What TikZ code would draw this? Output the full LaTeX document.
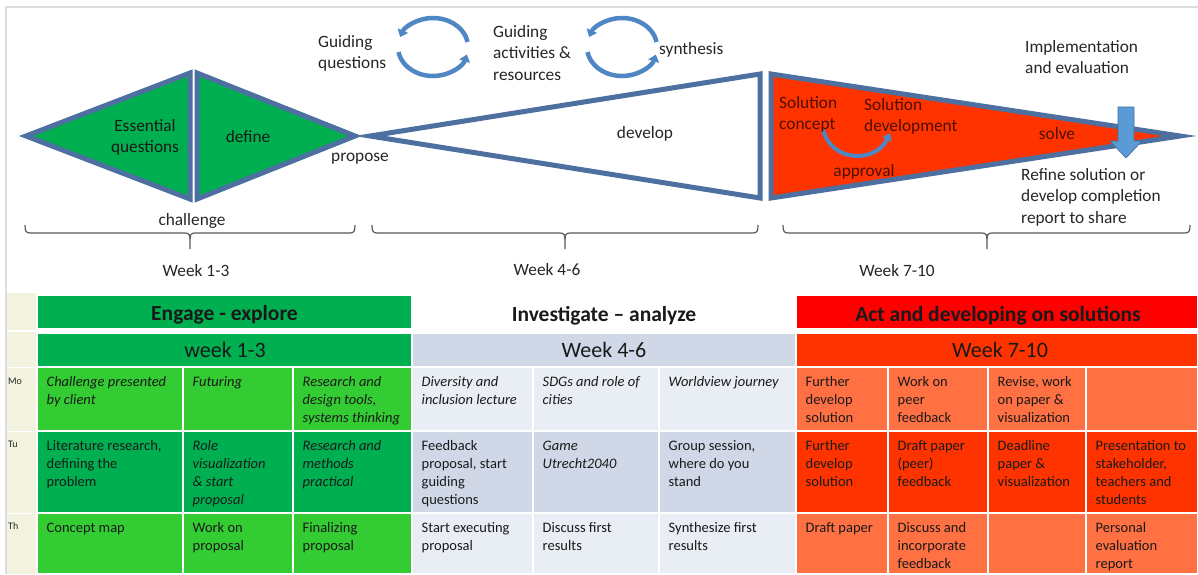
\documentclass[tikz,border=0pt]{standalone}
\usepackage{fontspec}
\setmainfont{Carlito}
\usetikzlibrary{arrows.meta}
\definecolor{frame}{HTML}{DDDDDD}
\definecolor{bord}{HTML}{4D70A0}
\definecolor{arrblue}{HTML}{4F87C5}
\definecolor{darrow}{HTML}{5B9BD5}
\definecolor{gdark}{HTML}{00B050}
\definecolor{glight}{HTML}{33CC33}
\definecolor{bdark}{HTML}{D0D8E8}
\definecolor{blight}{HTML}{E9EDF4}
\definecolor{rhead}{HTML}{FF0000}
\definecolor{rdark}{HTML}{FF3300}
\definecolor{rlight}{HTML}{FF7043}
\definecolor{beige}{HTML}{F2F2DE}
\definecolor{txt}{HTML}{262626}
\definecolor{redtxt}{HTML}{4D0F00}
\definecolor{celltxt}{HTML}{1A1A1A}
\definecolor{brcol}{HTML}{595959}
\newcommand\wkbrace[3]{%
  \draw[brc] (#1,225) .. controls (#1,231) and (#1+1,233) .. (#1+5,233) -- (#2-5,233) .. controls (#2-1,233) and (#2,235) .. (#2,239) -- (#2,249);
  \draw[brc] (#2,239) .. controls (#2,235) and (#2+1,233) .. (#2+5,233) -- (#3-5,233) .. controls (#3-1,233) and (#3,231) .. (#3,225);}
\begin{document}
\begin{tikzpicture}[x=1pt,y=-1pt,
  lbl/.style={font=\fontsize{17.3}{21.5}\selectfont, text=txt, inner sep=0pt, align=left, anchor=north west, execute at begin node=\strut},
  slbl/.style={font=\fontsize{17.3}{21.5}\selectfont, text=txt, inner sep=0pt, anchor=base},
  shp/.style={draw=bord, line width=5pt, line join=miter},
  circarr/.style={draw=arrblue, line width=4.5pt, -{Triangle[width=11pt,length=7pt]}},
  brc/.style={draw=brcol, line width=1.2pt},
  cellbg/.style={draw=white, line width=1.3pt},
  cell/.style={font=\fontsize{14.5}{18}\selectfont, text=celltxt, inner sep=0pt, align=left, anchor=north west, execute at begin node=\strut},
  icell/.style={cell, font=\fontsize{14.5}{18}\selectfont\itshape},
  hdr/.style={font=\fontsize{21.5}{24}\selectfont\bfseries, text=black!90, inner sep=0pt, anchor=base},
  wk/.style={font=\fontsize{22}{24}\selectfont, text=black!90, inner sep=0pt, anchor=base},
  day/.style={font=\fontsize{10}{12}\selectfont, text=txt, inner sep=0pt, anchor=base west}]
\useasboundingbox (0,0) rectangle (1198,574);
\fill[white] (0,0) rectangle (1198,574);
% frame lines
\draw[frame, line width=1.6pt] (6,7) -- (1198,7);
\draw[frame, line width=1.6pt] (6,7) -- (6,574);

% ---------- top diagram ----------
\filldraw[shp, fill=gdark] (26,136) -- (190,73) -- (190,199) -- cycle;
\filldraw[shp, fill=gdark] (197,73) -- (197,199) -- (355,136) -- cycle;
\filldraw[shp, fill=white] (370,136) -- (760,74) -- (760,198) -- cycle;
\filldraw[shp, fill=rdark] (771,74) -- (771,198) -- (1180,136) -- cycle;

% circular arrows
\coordinate (c1) at (433,47);
\coordinate (c2) at (622,47);
\draw[circarr] (c1) ++(-10:35 and 29) arc (-10:-160:35 and 29);
\draw[circarr] (c1) ++(170:35 and 29) arc (170:15:35 and 29);
\draw[circarr] (c2) ++(-10:35 and 29) arc (-10:-160:35 and 29);
\draw[circarr] (c2) ++(170:35 and 29) arc (170:15:35 and 29);

% approval arrow
\coordinate (ap1) at (823,130);
\coordinate (ap2) at (890,133);
\draw[draw=arrblue, line width=4pt, -{Triangle[width=10pt,length=7pt]}] (ap1) .. controls (832,163) and (876,163) .. (ap2);

% down arrow
\filldraw[fill=darrow, draw=arrblue!80!black, line width=0.6pt] (1118,107) -- (1134,107) -- (1134,141) -- (1142,141) -- (1126,158) -- (1110,141) -- (1118,141) -- cycle;

% labels top
\node[lbl] (gq) at (318,35) {Guiding\\questions};
\node[lbl] (gar) at (493,25) {Guiding\\activities \&\\resources};
\node[slbl, anchor=base west] (syn) at (659,54) {synthesis};
\node[lbl] (imp) at (1025,40) {Implementation\\and evaluation};
\node[lbl] (ref) at (1021,168) {Refine solution or\\develop completion\\report to share};
\node[lbl, font=\fontsize{17.3}{21}\selectfont, align=center, anchor=north, text=celltxt] (eq) at (145,119) {Essential\\questions};
\node[slbl, text=celltxt] (def) at (248,142) {define};
\node[slbl] (prop) at (360,161) {propose};
\node[slbl] (chal) at (192,225) {challenge};
\node[slbl] (dev) at (645,138) {develop};
\node[lbl, font=\fontsize{17.3}{21.5}\selectfont, text=redtxt] (sc) at (779,96) {Solution\\concept};
\node[lbl, font=\fontsize{17.3}{21.5}\selectfont, text=redtxt] (sd) at (864,98) {Solution\\development};
\node[slbl, text=redtxt] (solve) at (1057,139) {solve};
\node[slbl, text=redtxt] (appr) at (864,176) {approval};

% braces
\wkbrace{25}{190}{355}
\wkbrace{372}{565}{758}
\wkbrace{783}{987}{1190}
\node[slbl] (w13) at (196,276) {Week 1-3};
\node[slbl] (w46) at (547,275) {Week 4-6};
\node[slbl] (w710) at (897,276) {Week 7-10};

% ---------- table ----------
\fill[beige] (7,293) rectangle (37,574);
\draw[white, line width=2.5pt] (7,331) -- (37,331);
\draw[white, line width=1pt] (7,367) -- (37,367) (7,431) -- (37,431) (7,513) -- (37,513);

% header row
\filldraw[cellbg, fill=gdark] (37,295) rectangle (412,329);
\filldraw[cellbg, fill=rhead] (796,295) rectangle (1198,329);
% week row
\filldraw[cellbg, fill=gdark] (37,333) rectangle (412,367);
\filldraw[cellbg, fill=bdark] (412,333) rectangle (796,367);
\filldraw[cellbg, fill=rdark] (796,333) rectangle (1198,367);

% body rows
\foreach \ya/\yb/\gc/\bc/\rc in {367/431/glight/blight/rlight, 431/513/gdark/bdark/rdark, 513/574/glight/blight/rlight}{
  \filldraw[cellbg, fill=\gc] (37,\ya) rectangle (183,\yb);
  \filldraw[cellbg, fill=\gc] (183,\ya) rectangle (293,\yb);
  \filldraw[cellbg, fill=\gc] (293,\ya) rectangle (412,\yb);
  \filldraw[cellbg, fill=\bc] (412,\ya) rectangle (533,\yb);
  \filldraw[cellbg, fill=\bc] (533,\ya) rectangle (659,\yb);
  \filldraw[cellbg, fill=\bc] (659,\ya) rectangle (796,\yb);
  \filldraw[cellbg, fill=\rc] (796,\ya) rectangle (888,\yb);
  \filldraw[cellbg, fill=\rc] (888,\ya) rectangle (988,\yb);
  \filldraw[cellbg, fill=\rc] (988,\ya) rectangle (1086,\yb);
  \filldraw[cellbg, fill=\rc] (1086,\ya) rectangle (1198,\yb);
}

% headers
\node[hdr] (h1) at (224.5,320) {Engage - explore};
\node[hdr] (h2) at (604,321) {Investigate – analyze};
\node[hdr] (h3) at (998,321) {Act and developing on solutions};
\node[wk] (k1) at (225,357) {week 1-3};
\node[wk] (k2) at (604,357) {Week 4-6};
\node[wk] (k3) at (1000,357) {Week 7-10};

% day labels
\node[day] (dmo) at (8,384) {Mo};
\node[day] (dtu) at (8,447) {Tu};
\node[day] (dth) at (8,529) {Th};

% Mo row
\node[icell] (m1) at (46.5,376.7) {Challenge presented\\by client};
\node[icell] (m2) at (192.5,373.7) {Futuring};
\node[icell] (m3) at (302.5,376.7) {Research and\\design tools,\\systems thinking};
\node[icell] (m4) at (421.5,376.7) {Diversity and\\inclusion lecture};
\node[icell] (m5) at (542.5,376.7) {SDGs and role of\\cities};
\node[icell] (m6) at (668.5,373.7) {Worldview journey};
\node[cell] (m7) at (805.5,376.7) {Further\\develop\\solution};
\node[cell] (m8) at (897.5,376.7) {Work on\\peer\\feedback};
\node[cell] (m9) at (997.5,376.7) {Revise, work\\on paper \&\\visualization};

% Tu row
\node[cell] (t1) at (46.5,440.7) {Literature research,\\defining the\\problem};
\node[icell] (t2) at (192.5,440.7) {Role\\visualization\\\& start\\proposal};
\node[icell] (t3) at (302.5,440.7) {Research and\\methods\\practical};
\node[cell] (t4) at (421.5,440.7) {Feedback\\proposal, start\\guiding\\questions};
\node[icell] (t5) at (542.5,440.7) {Game\\Utrecht2040};
\node[cell] (t6) at (668.5,440.7) {Group session,\\where do you\\stand};
\node[cell] (t7) at (805.5,440.7) {Further\\develop\\solution};
\node[cell] (t8) at (897.5,440.7) {Draft paper\\(peer)\\feedback};
\node[cell] (t9) at (997.5,440.7) {Deadline\\paper \&\\visualization};
\node[cell] (t10) at (1095.5,440.7) {Presentation to\\stakeholder,\\teachers and\\students};

% Th row
\node[cell] (h1c) at (46.5,519.7) {Concept map};
\node[cell] (h2c) at (192.5,522.7) {Work on\\proposal};
\node[cell] (h3c) at (302.5,522.7) {Finalizing\\proposal};
\node[cell] (h4c) at (421.5,522.7) {Start executing\\proposal};
\node[cell] (h5c) at (542.5,522.7) {Discuss first\\results};
\node[cell] (h6c) at (668.5,522.7) {Synthesize first\\results};
\node[cell] (h7c) at (805.5,519.7) {Draft paper};
\node[cell] (h8c) at (897.5,522.7) {Discuss and\\incorporate\\feedback};
\node[cell] (h10c) at (1095.5,522.7) {Personal\\evaluation\\report};
\end{tikzpicture}
\end{document}
